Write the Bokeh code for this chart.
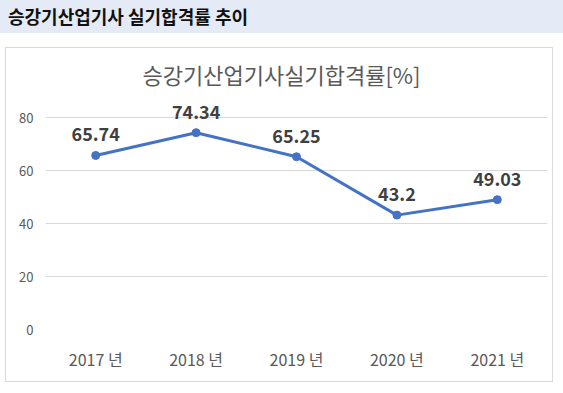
from bokeh.plotting import figure
from bokeh.models import Div, FactorRange, Range1d, FixedTicker, ColumnDataSource
from bokeh.layouts import column
from bokeh.core.properties import value
from bokeh.embed import file_html
from bokeh.resources import INLINE

header_text = "승강기산업기사 실기합격률 추이"
chart_title = "승강기산업기사실기합격률[%]"
years = ["2017 년", "2018 년", "2019 년", "2020 년", "2021 년"]
rates = [65.74, 74.34, 65.25, 43.2, 49.03]
rate_labels = ["65.74", "74.34", "65.25", "43.2", "49.03"]
y_ticks = [0, 20, 40, 60, 80]

KR = "Noto Sans CJK KR"

header = Div(
    text=header_text,
    width=563, height=33,
    margin=(0, 0, 0, 0),
    styles={
        "background-color": "#e5ebf6",
        "font-family": KR,
        "font-weight": "bold",
        "font-size": "18px",
        "line-height": "33px",
        "color": "#111111",
        "padding-left": "8px",
        "box-sizing": "border-box",
    },
)

src = ColumnDataSource(dict(x=years, y=rates, lab=rate_labels))

p = figure(
    width=548, height=335,
    x_range=FactorRange(*years),
    y_range=Range1d(0, 88),
    output_backend="svg", toolbar_location=None,
    min_border_left=39, min_border_right=7, min_border_top=48, min_border_bottom=54,
    background_fill_color="white", border_fill_color="white",
    outline_line_color=None,
    margin=(0, 0, 0, 5),
    styles={"border": "1px solid #d9d9d9", "box-sizing": "border-box"},
)
p.title.text = chart_title
p.title.align = "left"
p.title.offset = 97
p.title.standoff = 13
p.title.text_font = KR
p.title.text_font_size = "22px"
p.title.text_font_style = "normal"
p.title.text_color = "#595959"

p.line("x", "y", source=src, line_color="#4472C4", line_width=3)
p.scatter("x", "y", source=src, size=8, fill_color="#4472C4", line_color="#4472C4")
p.text("x", "y", text="lab", source=src, text_font=value(KR), text_font_style="bold",
       text_font_size="18px", text_color="#404040", text_align="center",
       text_baseline="middle", y_offset=-21)

p.xgrid.grid_line_color = None
p.ygrid.grid_line_color = "#d9d9d9"
p.ygrid.grid_line_width = 1
p.yaxis.ticker = FixedTicker(ticks=y_ticks)

for ax in (p.xaxis, p.yaxis):
    ax.axis_line_color = None
    ax.major_tick_line_color = None
    ax.minor_tick_line_color = None
    ax.major_tick_in = 0
    ax.major_tick_out = 0
    ax.major_label_text_color = "#595959"
    ax.major_label_text_font = KR

p.yaxis.major_label_text_font_size = "13px"
p.yaxis.major_label_standoff = 12
p.xaxis.major_label_text_font_size = "16px"
p.xaxis.major_label_standoff = 17
p.xaxis.group_text_font_size = "0px"

layout = column(header, p, spacing=14)

open("out.html", "w").write(file_html(layout, INLINE))
